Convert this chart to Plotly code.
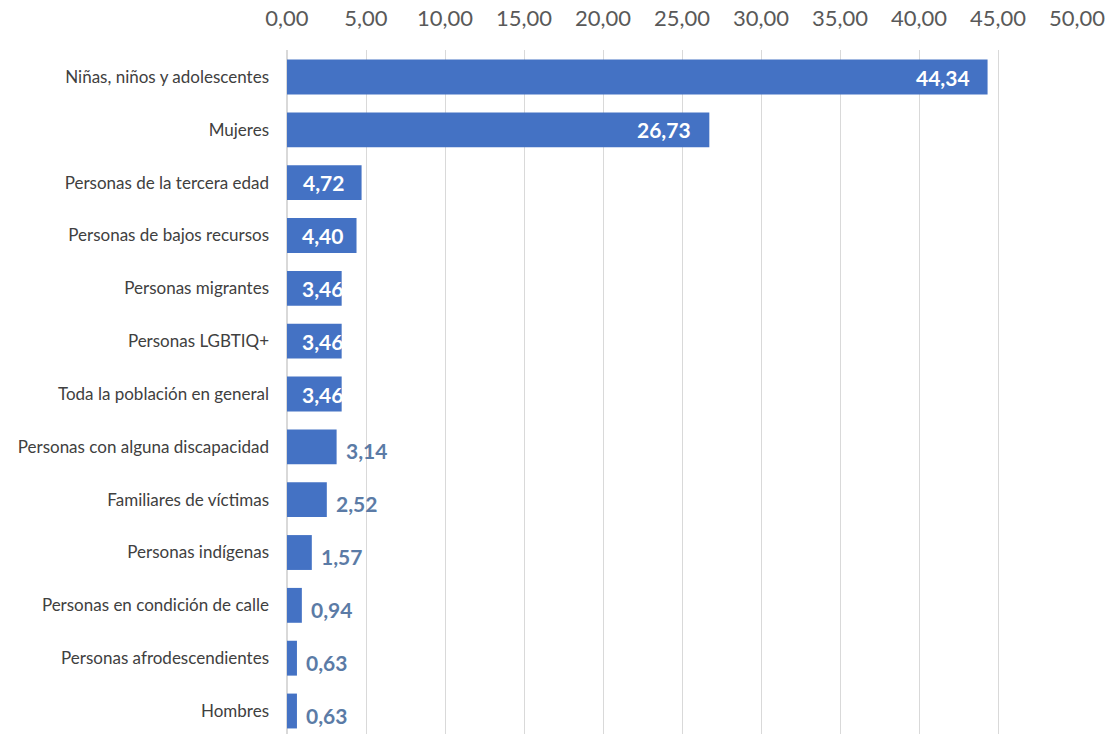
import plotly.graph_objects as go

# categories top -> bottom
categories = [
    "Niñas, niños y adolescentes",
    "Mujeres",
    "Personas de la tercera edad",
    "Personas de bajos recursos",
    "Personas migrantes",
    "Personas LGBTIQ+",
    "Toda la población en general",
    "Personas con alguna discapacidad",
    "Familiares de víctimas",
    "Personas indígenas",
    "Personas en condición de calle",
    "Personas afrodescendientes",
    "Hombres",
]
values = [44.34, 26.73, 4.72, 4.40, 3.46, 3.46, 3.46, 3.14, 2.52, 1.57, 0.94, 0.63, 0.63]
tick_vals = [0, 5, 10, 15, 20, 25, 30, 35, 40, 45, 50]

BAR = "#4472C4"
FONT = "Lato"


def fmt(v):
    return f"{v:.2f}".replace(".", ",")


fig = go.Figure()
fig.add_trace(go.Bar(
    x=values,
    y=categories,
    orientation="h",
    marker=dict(color=BAR, line=dict(width=0)),
    hoverinfo="skip",
))

# data labels, Excel style: inside end when it fits, else outside
annotations = []
for cat, v in zip(categories, values):
    if v >= 4.5:
        annotations.append(dict(x=v, y=cat, text=fmt(v), xanchor="right", xshift=-16,
                                font=dict(color="white", size=21, family=FONT)))
    elif v >= 3.4:
        annotations.append(dict(x=0, y=cat, text=fmt(v), xanchor="left", xshift=13,
                                font=dict(color="white", size=21, family=FONT)))
    else:
        annotations.append(dict(x=v, y=cat, text=fmt(v), xanchor="left", xshift=7, yshift=-4,
                                font=dict(color="#5B7BA6", size=21, family=FONT)))
for a in annotations:
    a.update(showarrow=False, xref="x", yref="y", yanchor="middle", text=f"<b>{a['text']}</b>")

fig.update_layout(
    width=1109,
    height=734,
    plot_bgcolor="white",
    paper_bgcolor="white",
    margin=dict(l=287, r=32, t=50, b=0),
    separators=",.",
    bargap=0.34,
    showlegend=False,
    annotations=annotations,
    font=dict(family=FONT, color="#595959"),
    xaxis=dict(
        side="top",
        range=[0, 50],
        tickvals=tick_vals,
        tickformat=".2f",
        tickfont=dict(size=22, color="#595959"),
        ticklabelstandoff=19,
        showgrid=True,
        gridcolor="#D9D9D9",
        gridwidth=1,
        zeroline=True,
        zerolinecolor="#D9D9D9",
        ticks="",
        showline=False,
        fixedrange=True,
    ),
    yaxis=dict(
        categoryorder="array",
        categoryarray=categories,
        range=[12.435, -0.511],
        tickfont=dict(size=17, color="#404040"),
        ticks="",
        ticklabelstandoff=17,
        showgrid=False,
        showline=False,
        fixedrange=True,
    ),
)

# drop the default page margin so the figure fills the window exactly
fig.write_html("out.html", config={"displayModeBar": False},
               post_script="document.body.style.margin = '0';")
